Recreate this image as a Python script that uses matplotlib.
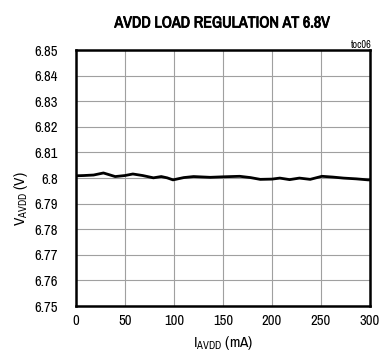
import matplotlib
matplotlib.use("Agg")
import matplotlib.pyplot as plt
import matplotlib.patheffects as pe
from matplotlib import font_manager

narrow = [f.name for f in font_manager.fontManager.ttflist if "Narrow" in f.name]
base = narrow[0] if narrow else "Liberation Sans"
plt.rcParams["font.family"] = [base, "DejaVu Sans"]
plt.rcParams["mathtext.fontset"] = "custom"
plt.rcParams["mathtext.rm"] = base

# load current (mA) vs AVDD output (V)
i_avdd = [0, 8, 18, 28, 40, 50, 58, 68, 79, 87, 93, 99, 110, 120, 137, 150,
          167, 178, 188, 200, 208, 218, 228, 239, 251, 262, 273, 286, 298, 300]
v_avdd = [6.8009, 6.8010, 6.8012, 6.8020, 6.8006, 6.8010, 6.8016, 6.8010, 6.8001, 6.8006,
          6.8001, 6.7993, 6.8002, 6.8006, 6.8003, 6.8005, 6.8007, 6.8002, 6.7995, 6.7996,
          6.8000, 6.7994, 6.8000, 6.7995, 6.8007, 6.8004, 6.8000, 6.7997, 6.7993, 6.7993]

x_ticks = [0, 50, 100, 150, 200, 250, 300]
y_ticks = [6.75, 6.76, 6.77, 6.78, 6.79, 6.80, 6.81, 6.82, 6.83, 6.84, 6.85]
y_labels = ["6.75", "6.76", "6.77", "6.78", "6.79", "6.8", "6.81", "6.82", "6.83", "6.84", "6.85"]

fig = plt.figure(figsize=(3.81, 3.53), dpi=100)
ax = fig.add_axes([0.1995, 0.133, 0.7715, 0.725])

ax.plot(i_avdd, v_avdd, color="black", linewidth=2.0)

ax.set_xlim(0, 300)
ax.set_ylim(6.75, 6.85)
ax.set_xticks(x_ticks)
ax.set_yticks(y_ticks)
ax.set_yticklabels(y_labels)
ax.tick_params(axis="x", length=0, labelsize=10.5, pad=6)
ax.tick_params(axis="y", length=0, labelsize=10.5, pad=13)
ax.grid(color="#a0a0a0", linewidth=0.8)
for s in ax.spines.values():
    s.set_linewidth(1.8)

ax.set_xlabel(r"I$_{\mathregular{AVDD}}$ (mA)", fontsize=11, labelpad=4)
ax.set_ylabel(r"V$_{\mathregular{AVDD}}$ (V)", fontsize=11, labelpad=4)
ax.yaxis.set_label_coords(-0.155, 0.42)
fig.text(0.583, 0.935, "AVDD LOAD REGULATION AT 6.8V", ha="center", va="center",
         fontsize=11.5, path_effects=[pe.withStroke(linewidth=0.6, foreground="black")])
fig.text(0.975, 0.873, "toc06", ha="right", va="center", fontsize=7.5)

fig.savefig("out.png", dpi=100)
